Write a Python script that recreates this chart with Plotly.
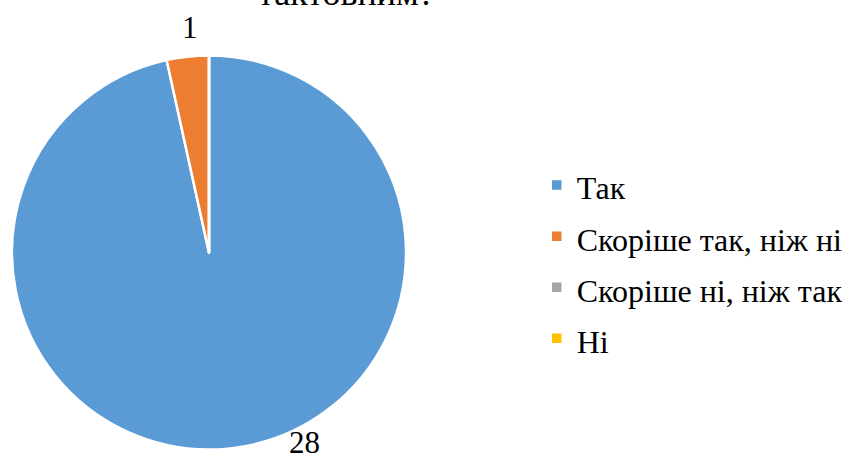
import plotly.graph_objects as go

labels = ['Так', 'Скоріше так, ніж ні', 'Скоріше ні, ніж так', 'Ні']
values = [28, 1, 0, 0]
colors = ['#5B9BD5', '#ED7D31', '#A5A5A5', '#FFC000']

W, H = 848, 459
serif = 'Liberation Serif'

fig = go.Figure()

# legend text is 32px; the legend font itself is bigger only to space the rows out
fig.add_trace(go.Pie(
    labels=["<span style='font-size:32px'>%s</span>" % l for l in labels],
    values=values,
    sort=False,
    direction='clockwise',
    rotation=0,
    marker=dict(colors=colors, line=dict(color='white', width=2.5)),
    textinfo='none',
    hoverinfo='label+value',
    domain=dict(x=[12 / W, 407 / W], y=[9 / H, 404 / H]),
))

# data labels (Excel-style placement)
label_pos = {0: (305, 442), 1: (190, 27)}
for i, (px_, py_) in label_pos.items():
    fig.add_annotation(
        x=px_ / W, y=1 - py_ / H, xref='paper', yref='paper',
        xanchor='center', yanchor='middle',
        text=str(values[i]), showarrow=False,
        font=dict(family=serif, size=31, color='black'),
    )

# cut-off title line
fig.add_annotation(
    x=347 / W, y=1 - 15 / H, xref='paper', yref='paper',
    xanchor='center', yanchor='bottom',
    text='тактовним?', showarrow=False,
    font=dict(family=serif, size=36, color='black'),
)

fig.update_layout(
    width=W, height=H,
    margin=dict(l=0, r=0, t=0, b=0),
    paper_bgcolor='white',
    plot_bgcolor='white',
    font=dict(family=serif, color='black'),
    showlegend=True,
    legend=dict(
        x=538 / W, xanchor='left',
        y=1 - 262 / H, yanchor='middle',
        font=dict(family=serif, size=37, color='black'),
        bgcolor='rgba(0,0,0,0)',
    ),
)

fig.write_html('out.html', config={'displayModeBar': False},
               post_script="document.body.style.margin='0';")
